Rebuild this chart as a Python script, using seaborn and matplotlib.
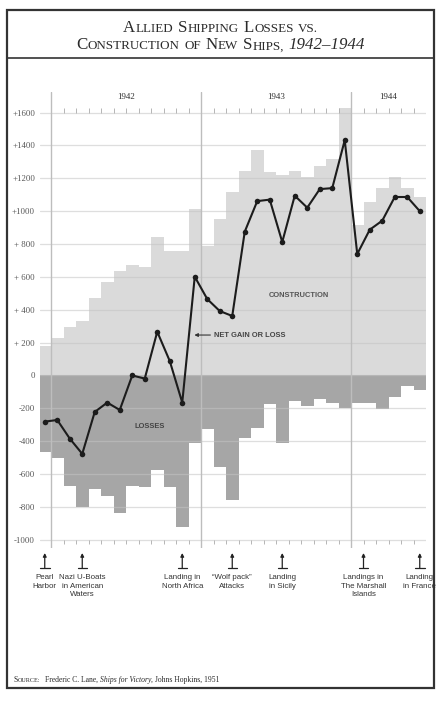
import numpy as np
import pandas as pd
import matplotlib.pyplot as plt
import seaborn as sns
from matplotlib.patches import Rectangle
from matplotlib.lines import Line2D

# month index: 0 = Jan 1942, -1 = Dec 1941 ... 29 = Jun 1944
months = list(range(-1, 30))
construction = [180, 230, 296, 330, 470, 570, 635, 670, 660, 840, 760, 760, 1015,
                785, 950, 1115, 1245, 1375, 1238, 1220, 1244, 1209, 1276, 1315, 1627,
                915, 1053, 1142, 1205, 1142, 1086]
losses = [-465, -500, -670, -800, -690, -735, -840, -670, -676, -575, -680, -920, -414,
          -323, -560, -755, -380, -320, -172, -412, -156, -185, -144, -170, -200,
          -170, -170, -205, -130, -67, -91]
net = [-281, -271, -384, -477, -222, -165, -210, 0, -19, 266, 88, -165, 601,
       465, 392, 362, 875, 1061, 1070, 812, 1094, 1021, 1134, 1140, 1432,
       739, 887, 942, 1086, 1086, 1000]

years = ['1942', '1943', '1944']
year_edges = [-0.5, 11.5, 23.5, 29.5]

yticks = [1600, 1400, 1200, 1000, 800, 600, 400, 200, 0, -200, -400, -600, -800, -1000]
ylabels = ['+1600', '+1400', '+1200', '+1000', '+ 800', '+ 600', '+ 400', '+ 200',
           '0', '-200', '-400', '-600', '-800', '-1000']

events_x = [-1, 2, 10, 14, 18, 24.5, 29]
events = ['Pearl\nHarbor', 'Nazi U-Boats\nin American\nWaters', 'Landing in\nNorth Africa',
          '\u201cWolf pack\u201d\nAttacks', 'Landing\nin Sicily',
          'Landings in\nThe Marshall\nIslands', 'Landing\nin France']

df = pd.DataFrame({'month': months, 'construction': construction,
                   'losses': losses, 'net': net})

sns.set_theme(style='white')
plt.rcParams['font.family'] = ['Liberation Serif', 'DejaVu Serif']
narrow = ['Liberation Sans Narrow', 'Liberation Sans', 'DejaVu Sans']

W, H = 447, 701
fig = plt.figure(figsize=(W / 100, H / 100), dpi=100)
ax = fig.add_axes([40 / W, (H - 548) / H, 386 / W, 456 / H])

sns.barplot(data=df, x='month', y='construction', native_scale=True, width=1,
            color='#dadada', saturation=1, linewidth=0, errorbar=None, ax=ax, zorder=1)
sns.barplot(data=df, x='month', y='losses', native_scale=True, width=1,
            color='#a6a6a6', saturation=1, linewidth=0, errorbar=None, ax=ax, zorder=1)
sns.lineplot(data=df, x='month', y='net', color='#1c1c1c', lw=1.5, marker='o',
             markersize=4, markeredgewidth=0, ax=ax, zorder=5)

# grid + year separators
for v in yticks:
    ax.axhline(v, color='#c4c4c4', lw=0.9, alpha=0.55, zorder=2)
for x in year_edges[:3]:
    ax.axvline(x, color='#bdbdbd', lw=1, zorder=2)

bounds = [b + 0.5 for b in range(0, 30) if b + 0.5 not in year_edges[:3]]
ax.vlines(bounds, 1600, 1625, color='#aaaaaa', lw=0.6, zorder=2)
ax.vlines(bounds, -1025, -1000, color='#aaaaaa', lw=0.6, zorder=2)

for i, y in enumerate(years):
    ax.text((year_edges[i] + year_edges[i + 1]) / 2, 1694, y, ha='center', va='center',
            fontsize=6.5, color='#333333')

ax.text(19.3, 484, 'CONSTRUCTION', ha='center', va='center', fontsize=5.4,
        fontweight='bold', family=narrow, color='#555555', zorder=6)
ax.text(7.36, -313, 'LOSSES', ha='center', va='center', fontsize=5.4,
        fontweight='bold', family=narrow, color='#444444', zorder=6)
ax.text(12.5, 246, 'NET GAIN OR LOSS', ha='left', va='center', fontsize=5.4,
        fontweight='bold', family=narrow, color='#444444', zorder=6)
ax.annotate('', xy=(10.97, 246), xytext=(12.25, 246),
            arrowprops=dict(arrowstyle='-|>', color='#333333', lw=0.8,
                            mutation_scale=5, shrinkA=0, shrinkB=0), zorder=6)

ax.set_yticks(yticks)
ax.set_yticklabels(ylabels)
ax.tick_params(axis='y', length=0, pad=3.6, labelsize=6.3, labelcolor='#555555')
ax.set_xticks([])
ax.set_xlabel('')
ax.set_ylabel('')
for s in ax.spines.values():
    s.set_visible(False)

# event markers under the chart
trans = ax.get_xaxis_transform()
for x, lab in zip(events_x, events):
    ax.annotate('', xy=(x, -0.011), xycoords=trans, xytext=(x, -0.044), textcoords=trans,
                arrowprops=dict(arrowstyle='-|>', color='#222222', lw=0.9,
                                mutation_scale=5, shrinkA=0, shrinkB=0),
                annotation_clip=False)
    ax.plot([x - 0.38, x + 0.38], [-0.044, -0.044], transform=trans, color='#222222',
            lw=0.9, clip_on=False)
    ax.text(x, -0.057, lab, transform=trans, ha='center', va='top', fontsize=5.7,
            family=narrow, color='#333333', linespacing=1.35)

ax.set_xlim(-1.38, 29.5)
ax.set_ylim(-1050, 1725)

# frame
fig.add_artist(Rectangle((7 / W, 13 / H), 427 / W, 678 / H, transform=fig.transFigure,
                         fill=False, lw=1.6, ec='#333333'))
fig.add_artist(Line2D([7 / W, 434 / W], [1 - 58 / H, 1 - 58 / H], lw=1.2, color='#333333'))


def put_pieces(pieces, x, y, center=True):
    # pieces: (text, size, style, gap in px after)
    r = fig.canvas.get_renderer()
    objs = []
    for txt, size, style, gap in pieces:
        t = fig.text(0, y, txt, fontsize=size, fontstyle=style, va='baseline',
                     color='#2a2a2a')
        objs.append((t, gap))
    total = sum(t.get_window_extent(r).width + g for t, g in objs) - objs[-1][1]
    pos = x - total / 2 if center else x
    for t, g in objs:
        t.set_x(pos / W)
        pos += t.get_window_extent(r).width + g


big, small = 12.2, 9.4
sp = 4.5
put_pieces([('A', big, 'normal', 0.5), ('LLIED', small, 'normal', sp),
            ('S', big, 'normal', 0.5), ('HIPPING', small, 'normal', sp),
            ('L', big, 'normal', 0.5), ('OSSES', small, 'normal', sp),
            ('VS.', small, 'normal', 0)], 220.5, 1 - 31.7 / H)
put_pieces([('C', big, 'normal', 0.5), ('ONSTRUCTION', small, 'normal', sp),
            ('OF', small, 'normal', sp), ('N', big, 'normal', 0.5), ('EW', small, 'normal', sp),
            ('S', big, 'normal', 0.5), ('HIPS,', small, 'normal', sp),
            ('1942\u20131944', big, 'italic', 0)], 220.5, 1 - 49.3 / H)
put_pieces([('S', 5.5, 'normal', 0), ('OURCE:', 4.4, 'normal', 5),
            ('Frederic C. Lane,', 5.5, 'normal', 2), ('Ships for Victory,', 5.5, 'italic', 2),
            ('Johns Hopkins, 1951', 5.5, 'normal', 0)], 13, 1 - 682 / H, center=False)

fig.savefig('out.png', dpi=100)
